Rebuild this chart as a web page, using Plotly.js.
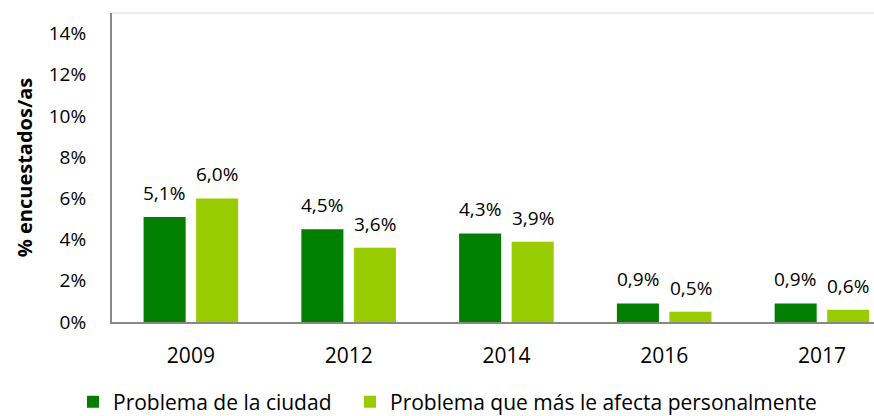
<!DOCTYPE html>
<html>
<head>
<meta charset="utf-8">
<script src="https://cdn.plot.ly/plotly-3.0.1.min.js"></script>
<style>html,body{margin:0;padding:0;background:#fff;}#chart{width:874px;height:416px;}</style>
</head>
<body>
<div id="chart"></div>
<script>
const years = ['2009', '2012', '2014', '2016', '2017'];
const seriesNames = ['Problema de la ciudad', 'Problema que más le afecta personalmente'];
const ciudad = [5.1, 4.5, 4.3, 0.9, 0.9];
const personal = [6.0, 3.6, 3.9, 0.5, 0.6];
const yTickVals = [0, 2, 4, 6, 8, 10, 12, 14];
const yTickText = ['0%', '2%', '4%', '6%', '8%', '10%', '12%', '14%'];
const colors = ['#007F00', '#99CC00'];

const FONT = '"Open Sans", Lato, sans-serif';
const fmt = v => v.toFixed(1).replace('.', ',') + '%';

const traces = [ciudad, personal].map((vals, i) => ({
  type: 'bar',
  name: seriesNames[i],
  x: years,
  y: vals,
  legend: i === 0 ? 'legend' : 'legend2',
  marker: {color: colors[i], line: {width: 0}},
  hoverinfo: 'none'
}));

const annotations = [];
[ciudad, personal].forEach((vals, i) => {
  vals.forEach((v, j) => {
    annotations.push({
      x: j, y: v, xref: 'x', yref: 'y',
      text: fmt(v), showarrow: false,
      xshift: i === 0 ? -26.5 : 26.5,
      yshift: 24, yanchor: 'middle', xanchor: 'center',
      font: {family: FONT, size: 19, color: '#000'}
    });
  });
});

const legendBase = {
  orientation: 'h', xref: 'container', yref: 'container',
  xanchor: 'left', yanchor: 'middle',
  font: {family: FONT, size: 21, color: '#000'},
  bgcolor: 'rgba(0,0,0,0)'
};

const layout = {
  width: 874, height: 416,
  margin: {l: 112, r: 0, t: 13, b: 94},
  paper_bgcolor: '#fff', plot_bgcolor: '#fff',
  font: {family: FONT, size: 19, color: '#000'},
  barmode: 'group', bargap: 0.334, bargroupgap: 0.2,
  xaxis: {
    type: 'category', range: [-0.5, 4.33],
    showline: true, linecolor: '#888888', linewidth: 2,
    showgrid: false, zeroline: false, ticks: '',
    ticklabelstandoff: 14,
    tickfont: {family: FONT, size: 21, color: '#000'}
  },
  yaxis: {
    range: [0, 15], tickvals: yTickVals, ticktext: yTickText,
    showline: true, linecolor: '#888888', linewidth: 2,
    showgrid: false, zeroline: false, ticks: '',
    ticklabelstandoff: 20,
    tickfont: {family: FONT, size: 19, color: '#000'},
    title: {text: '<b>% encuestados/as</b>', font: {family: FONT, size: 20, color: '#000'}, standoff: 11}
  },
  showlegend: true,
  legend: Object.assign({x: 73/874, y: 14/416}, legendBase),
  legend2: Object.assign({x: 350/874, y: 14/416}, legendBase),
  shapes: [{
    type: 'line', xref: 'paper', yref: 'paper', x0: 0, x1: 1, y0: 1, y1: 1,
    line: {color: '#d9d9d9', width: 1}
  }],
  annotations: annotations
};

Plotly.newPlot('chart', traces, layout, {displayModeBar: false, staticPlot: true});
</script>
</body>
</html>
